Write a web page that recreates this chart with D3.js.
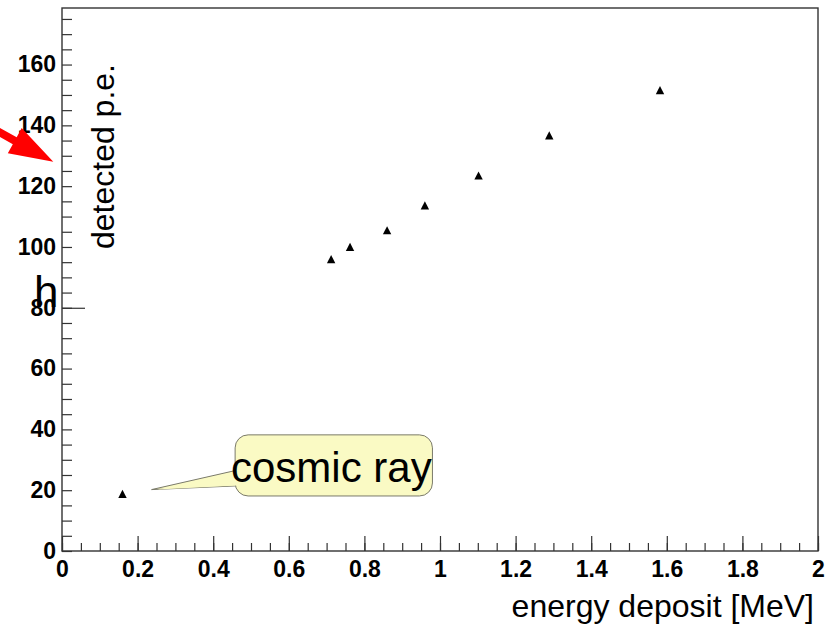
<!DOCTYPE html>
<html><head><meta charset="utf-8">
<script src="https://cdn.jsdelivr.net/npm/d3@7/dist/d3.min.js"></script>
<style>
html,body{margin:0;padding:0;background:#fff;}
svg{display:block;}
text{font-family:"Liberation Sans",Arial,Helvetica,sans-serif;}
</style></head>
<body>
<script>
// ---- data ----
const energy = [0.16, 0.712, 0.762, 0.86, 0.96, 1.102, 1.289, 1.582];
const detectedPE = [18.8, 96.0, 100.0, 105.5, 113.7, 123.5, 136.7, 151.6];
const xTickLabels = [0, 0.2, 0.4, 0.6, 0.8, 1, 1.2, 1.4, 1.6, 1.8, 2];
const yTickLabels = [0, 20, 40, 60, 80, 100, 120, 140, 160];
const xTitle = "energy deposit [MeV]";
const yTitle = "detected p.e.";
const calloutText = "cosmic ray";

const W = 830, H = 628;
const svg = d3.select("body").append("svg").attr("width", W).attr("height", H);

const x = d3.scaleLinear().domain([0, 2]).range([62, 818]);
const y = d3.scaleLinear().domain([0, 178.6]).range([551, 8]);

// frame
svg.append("rect").attr("x", x(0)).attr("y", y(178.6))
  .attr("width", x(2) - x(0)).attr("height", y(0) - y(178.6))
  .attr("fill", "none").attr("stroke", "#333").attr("stroke-width", 1.4);

const fmt = d3.format("~g");

// x ticks (inward, upward)
const gx = svg.append("g").attr("transform", `translate(0,${y(0)})`);
gx.append("g").call(d3.axisTop(x).tickValues(d3.range(0, 2.0001, 0.05)).tickSize(8).tickFormat(""))
  .call(g => g.select(".domain").remove());
gx.append("g").call(d3.axisTop(x).tickValues(xTickLabels).tickSize(15).tickFormat(""))
  .call(g => g.select(".domain").remove());
gx.append("g").call(d3.axisBottom(x).tickValues(xTickLabels).tickSize(0).tickPadding(10).tickFormat(fmt))
  .call(g => g.select(".domain").remove())
  .selectAll("text").attr("font-size", 23).attr("font-weight", "bold")
  .attr("font-family", '"Liberation Sans",Arial,sans-serif').attr("fill", "#000");
gx.selectAll(".tick line").attr("stroke", "#333").attr("stroke-width", 1.2);

// y ticks (inward, to the right)
const gy = svg.append("g").attr("transform", `translate(${x(0)},0)`);
gy.append("g").call(d3.axisRight(y).tickValues(d3.range(0, 178, 5)).tickSize(10).tickFormat(""))
  .call(g => g.select(".domain").remove());
gy.append("g").call(d3.axisRight(y).tickValues([80]).tickSize(23).tickFormat(""))
  .call(g => g.select(".domain").remove());
gy.append("g").call(d3.axisLeft(y).tickValues(yTickLabels).tickSize(0).tickPadding(6).tickFormat(fmt))
  .call(g => g.select(".domain").remove())
  .selectAll("text").attr("font-size", 23).attr("font-weight", "bold")
  .attr("font-family", '"Liberation Sans",Arial,sans-serif').attr("fill", "#000");
gy.selectAll(".tick line").attr("stroke", "#333").attr("stroke-width", 1.2);

// axis titles
svg.append("text").attr("x", 814).attr("y", 617).attr("text-anchor", "end")
  .attr("font-size", 32).text(xTitle);
svg.append("text").attr("transform", `translate(114,${y(0)}) rotate(-90)`)
  .attr("x", y(0) - 64).attr("y", 0).attr("text-anchor", "end")
  .attr("font-size", 32).text(yTitle);

// stray "h" glyph
svg.append("text").attr("x", 34).attr("y", 307).attr("font-size", 44).text("h");

// red arrow (annotation, in data coords)
const arrowTip = [-0.023, 128.0], arrowTail = [-0.32, 148.3];
(function(){
  const tx = x(arrowTip[0]), ty = y(arrowTip[1]);
  const sx = x(arrowTail[0]), sy = y(arrowTail[1]);
  const L = Math.hypot(tx - sx, ty - sy);
  const ux = (tx - sx) / L, uy = (ty - sy) / L;
  const px = -uy, py = ux;
  const hl = 44, hw = 14.4, sw = 4;
  const bx = tx - ux * hl, by = ty - uy * hl;
  const pts = [
    [sx + px * sw, sy + py * sw], [bx + px * sw, by + py * sw], [bx + px * hw, by + py * hw],
    [tx, ty],
    [bx - px * hw, by - py * hw], [bx - px * sw, by - py * sw], [sx - px * sw, sy - py * sw]
  ];
  svg.append("path").attr("d", d3.line()(pts) + "Z").attr("fill", "#ff0000");
})();

// callout (annotation, in data coords)
const box = {x0: 0.458, x1: 0.98, y0: 18.1, y1: 38.2};
const pointer = {tip: [0.237, 20.2], b1: [0.46, 26.5], b2: [0.46, 21.4]};
svg.append("path")
  .attr("d", d3.line()([[x(pointer.b1[0]), y(pointer.b1[1])], [x(pointer.tip[0]), y(pointer.tip[1])], [x(pointer.b2[0]), y(pointer.b2[1])]]))
  .attr("fill", "#fafac4").attr("stroke", "#7a7a6a").attr("stroke-width", 1);
svg.append("rect").attr("x", x(box.x0)).attr("y", y(box.y1))
  .attr("width", x(box.x1) - x(box.x0)).attr("height", y(box.y0) - y(box.y1))
  .attr("rx", 13).attr("ry", 13)
  .attr("fill", "#fafac4").attr("stroke", "#7a7a6a").attr("stroke-width", 1);
// cover the pointer join seam
svg.append("path")
  .attr("d", d3.line()([[x(pointer.b1[0]) + 1.5, y(pointer.b1[1]) + 0.8], [x(pointer.tip[0]) + 6, y(pointer.tip[1])], [x(pointer.b2[0]) + 1.5, y(pointer.b2[1]) - 0.5]]))
  .attr("fill", "#fafac4").attr("stroke", "none");
svg.append("text").attr("x", x(0.447)).attr("y", y(22.8)).attr("font-size", 42).text(calloutText);

// data markers: filled triangles (bbox centered)
const tri = { draw(ctx, size) { const w = 4.2, h = 4.1;
  ctx.moveTo(0, -h); ctx.lineTo(w, h); ctx.lineTo(-w, h); ctx.closePath(); } };
svg.append("g").selectAll("path").data(energy).join("path")
  .attr("transform", (d, i) => `translate(${x(d)},${y(detectedPE[i])})`)
  .attr("d", d3.symbol().type(tri)()).attr("fill", "#000");
</script>
</body></html>
